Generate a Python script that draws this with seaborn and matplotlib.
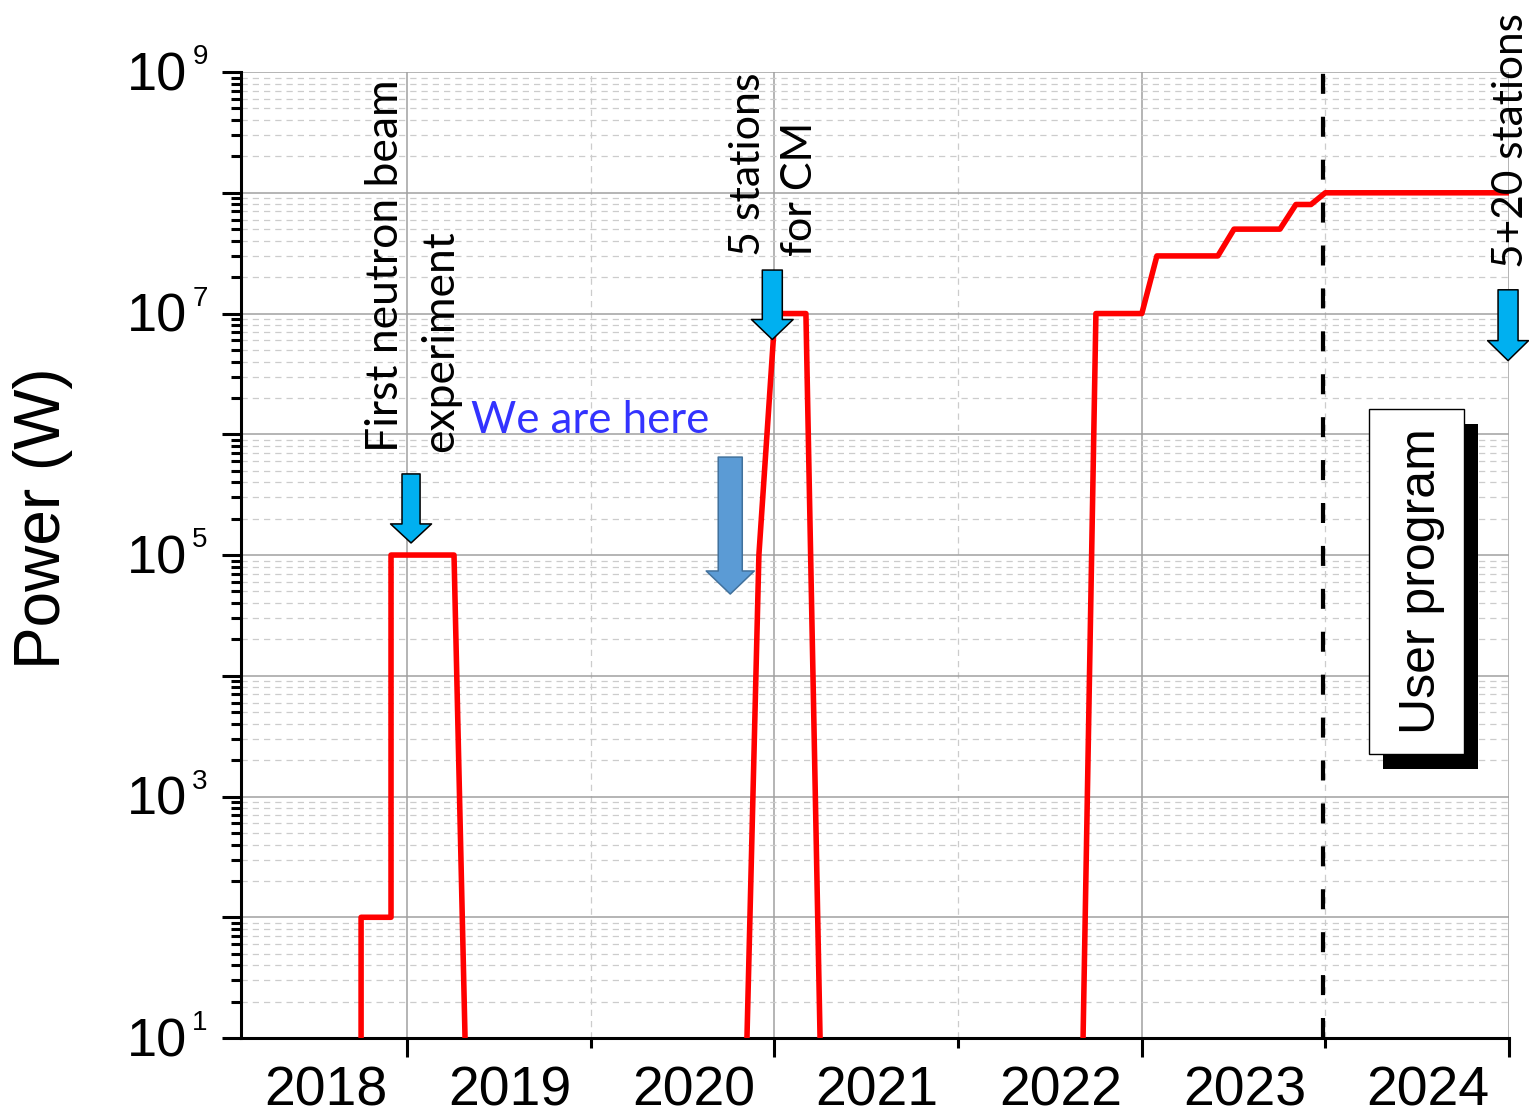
import numpy as np
import pandas as pd
import matplotlib
matplotlib.use("Agg")
import matplotlib.pyplot as plt
import matplotlib.ticker as mticker
from matplotlib.patches import Rectangle
import seaborn as sns

# ---- data: beam power ramp-up (decimal year, watts), one list per campaign ----
phase1_year = [2018.750, 2018.750, 2018.913, 2018.913, 2019.256, 2019.316]
phase1_power = [1e1, 1e2, 1e2, 1e5, 1e5, 1e1]

phase2_year = [2020.851, 2020.916, 2021.004, 2021.172, 2021.249]
phase2_power = [1e1, 1e5, 1e7, 1e7, 1e1]

phase3_year = [2022.681, 2022.751, 2023.001, 2023.083, 2023.415, 2023.503,
               2023.753, 2023.840, 2023.922, 2024.000, 2025.000]
phase3_power = [1e1, 1e7, 1e7, 3e7, 3e7, 5e7, 5e7, 8e7, 8e7, 1e8, 1e8]

year_labels = ["2018", "2019", "2020", "2021", "2022", "2023", "2024"]
label_exponents = [1, 3, 5, 7, 9]
user_program_start = 2023.985

df = pd.concat([
    pd.DataFrame({"year": phase1_year, "power": phase1_power, "phase": 1}),
    pd.DataFrame({"year": phase2_year, "power": phase2_power, "phase": 2}),
    pd.DataFrame({"year": phase3_year, "power": phase3_power, "phase": 3}),
], ignore_index=True)

sns.set_style("white")
plt.rcParams["font.family"] = ["Liberation Sans", "DejaVu Sans"]
plt.rcParams["text.color"] = "black"
plt.rcParams["axes.labelcolor"] = "black"
note_font = ["Lato", "DejaVu Sans"]

fig, ax = plt.subplots(figsize=(15.29, 11.17), dpi=100)
fig.subplots_adjust(left=0.1576, right=0.9869, bottom=0.0707, top=0.9355)

sns.lineplot(data=df, x="year", y="power", units="phase", estimator=None,
             sort=False, color="#ff0000", lw=4.0, ax=ax, zorder=5)

ax.set_yscale("log")
ax.set_ylim(1e1, 1e9)
ax.set_xlim(2018.096, 2025.0)

# x ticks: long every two years, short in between
ax.xaxis.set_major_locator(mticker.FixedLocator([2019, 2021, 2023, 2025]))
ax.xaxis.set_minor_locator(mticker.FixedLocator([2020, 2022, 2024]))
ax.yaxis.set_major_locator(mticker.LogLocator(base=10, numticks=20))
ax.yaxis.set_minor_locator(mticker.LogLocator(base=10, subs=np.arange(2, 10), numticks=20))
ax.xaxis.set_major_formatter(mticker.NullFormatter())
ax.xaxis.set_minor_formatter(mticker.NullFormatter())
ax.yaxis.set_major_formatter(mticker.NullFormatter())
ax.yaxis.set_minor_formatter(mticker.NullFormatter())

ax.tick_params(which="major", direction="out", length=14, width=2.2, color="black",
               bottom=True, left=True)
ax.tick_params(which="minor", direction="out", length=7, width=2.2, color="black",
               bottom=True, left=True)

for side in ("top", "right"):
    ax.spines[side].set_visible(False)
for side in ("left", "bottom"):
    ax.spines[side].set_linewidth(2.2)
    ax.spines[side].set_color("black")

ax.set_axisbelow(True)
ax.grid(which="major", color="#a0a0a0", lw=1.1, ls="-")
ax.grid(which="minor", color="#cccccc", lw=0.9, ls=(0, (5, 4)))

# year names centred inside each year span
for i, lab in enumerate(year_labels):
    ax.text(2018.559 + i, -0.0549, lab, transform=ax.get_xaxis_transform(),
            ha="center", va="center", fontsize=40, clip_on=False)

# power-of-ten labels with a small raised exponent
for e in label_exponents:
    ax.annotate("10", xy=(0, 10.0 ** e), xycoords=("axes fraction", "data"),
                xytext=(-38.9, -2.9), textcoords="offset points",
                ha="right", va="center", fontsize=39, annotation_clip=False)
    ax.annotate(str(e), xy=(0, 10.0 ** e), xycoords=("axes fraction", "data"),
                xytext=(-35.0, 10.8), textcoords="offset points",
                ha="left", va="center", fontsize=20, annotation_clip=False)

ax.set_xlabel("")
ax.set_ylabel("Power (W)", fontsize=46)
ax.yaxis.set_label_coords(-0.1325, 0.538)

# start of the user programme
ax.axvline(user_program_start, color="black", lw=3, dashes=(4.8, 5.5), zorder=4)


def down_arrow(x, y, length, tail, head_w, head_l, fc, ec, lw):
    ax.annotate("", xy=(x, y), xytext=(0, length), textcoords="offset points",
                arrowprops=dict(
                    arrowstyle=f"simple,head_length={head_l},head_width={head_w},tail_width={tail}",
                    mutation_scale=1, fc=fc, ec=ec, lw=lw, shrinkA=0, shrinkB=0),
                zorder=7)


cyan = "#00b0f0"
down_arrow(2019.022, 10 ** 5.10, 49.7, 13.0, 29.5, 13.7, cyan, "black", 1.1)
down_arrow(2020.989, 10 ** 6.785, 50.0, 14.4, 30.0, 14.4, cyan, "black", 1.1)
down_arrow(2024.995, 10 ** 6.61, 51.0, 14.4, 29.5, 14.4, cyan, "black", 1.1)
down_arrow(2020.760, 10 ** 4.677, 98.6, 17.3, 34.6, 16.6, "#5b9bd5", "#41719c", 1.1)

# milestone notes
notes = [
    ("First neutron beam", 2018.951, 10 ** 5.853, 32),
    ("experiment", 2019.250, 10 ** 5.853, 32),
    ("5 stations", 2020.922, 10 ** 7.480, 31),
    ("for CM", 2021.205, 10 ** 7.480, 31),
    ("5+20 stations", 2025.076, 10 ** 7.381, 30.5),
]
for txt, x, y, size in notes:
    ax.text(x, y, txt, rotation=90, rotation_mode="anchor", ha="left", va="baseline",
            fontsize=size, family=note_font, color="black", zorder=8, clip_on=False)

ax.text(2019.348, 10 ** 6.010, "We are here", ha="left", va="baseline",
        fontsize=31.5, family=note_font, color="#3333ff", zorder=8)

# "User program" label box with drop shadow
box_x, box_y, box_w, box_h = 0.8896, 0.294, 0.0749, 0.357
ax.add_patch(Rectangle((box_x + 0.0114, box_y - 0.0150), box_w, box_h,
                       transform=ax.transAxes, fc="black", ec="none", zorder=8))
ax.add_patch(Rectangle((box_x, box_y), box_w, box_h, transform=ax.transAxes,
                       fc="white", ec="black", lw=1.0, zorder=9))
ax.text(0.9314, 0.4726, "User program", transform=ax.transAxes, rotation=90,
        ha="center", va="center", fontsize=36, zorder=10)

fig.savefig("out.png", dpi=100)
